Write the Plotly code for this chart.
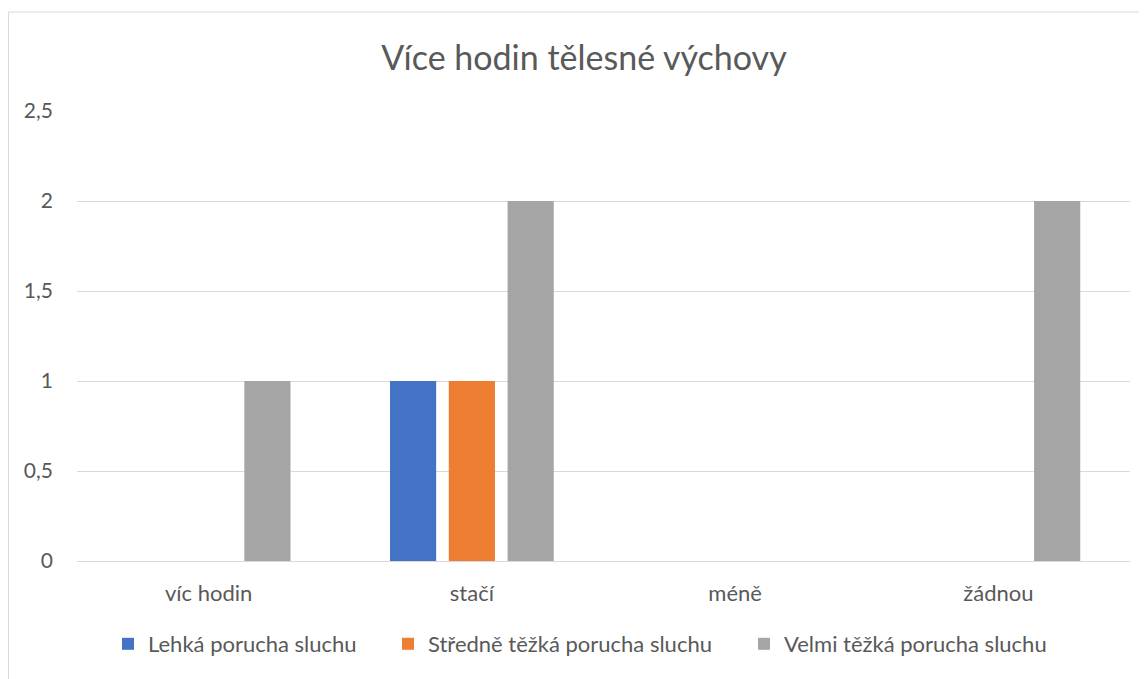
import plotly.graph_objects as go

categories = ["víc hodin", "stačí", "méně", "žádnou"]
series_names = ["Lehká porucha sluchu", "Středně těžká porucha sluchu", "Velmi těžká porucha sluchu"]
lehka = [0, 1, 0, 0]
stredne = [0, 1, 0, 0]
velmi = [1, 2, 0, 2]
colors = ["#4472C4", "#ED7D31", "#A5A5A5"]
y_ticks = [0, 0.5, 1, 1.5, 2, 2.5]
y_tick_labels = ["0", "0,5", "1", "1,5", "2", "2,5"]

W, H = 1147, 679
# page body has an 8px margin, so figure coords = screenshot coords - 8
L, R, T, B = 69, 25, 103, 126
pw = W - L - R
ph = H - T - B

legend_ids = ["legend", "legend2", "legend3"]
legend_text_x = [140, 420, 776]  # figure px where each legend label starts

fig = go.Figure()
for name, vals, col, lid in zip(series_names, [lehka, stredne, velmi], colors, legend_ids):
    fig.add_trace(go.Bar(x=categories, y=vals, name=name, legend=lid, showlegend=True,
                         marker=dict(color=col, line=dict(width=0))))

font_family = "Lato, 'Open Sans', sans-serif"
legend_common = dict(orientation="h", xanchor="left", yanchor="middle", y=-(636 - 553) / ph,
                     font=dict(size=22, color="#595959", family=font_family), itemwidth=30,
                     bgcolor="rgba(0,0,0,0)")
legends = {}
for lid, tx in zip(legend_ids, legend_text_x):
    legends[lid] = dict(legend_common, x=(tx - 40 - L) / pw)

fig.update_layout(
    width=W, height=H,
    showlegend=True,
    margin=dict(l=L, r=R, t=T, b=B, pad=0),
    paper_bgcolor="white", plot_bgcolor="white",
    barmode="group", bargap=0.33, bargroupgap=0.215,
    separators=", ",
    font=dict(family=font_family, color="#595959", size=22),
    title=dict(text="Více hodin tělesné výchovy", x=(584 - 8) / W, xanchor="center", y=1 - 50 / H, yanchor="middle",
               font=dict(size=34, color="#595959", family=font_family)),
    xaxis=dict(showgrid=False, showline=True, linecolor="#D9D9D9", linewidth=1, ticks="",
               tickfont=dict(size=22, color="#595959"), ticklabelstandoff=13),
    yaxis=dict(range=[0, 2.5], tickvals=y_ticks, ticktext=y_tick_labels, showgrid=True,
               gridcolor="#D9D9D9", gridwidth=1, zeroline=False, showline=False, ticks="",
               tickfont=dict(size=21, color="#595959"), ticklabelstandoff=23),
    shapes=[dict(type="rect", xref="paper", yref="paper",
                 x0=(0.5 - L) / pw, x1=(1160 - L) / pw,
                 y0=(553 - 700) / ph, y1=(553 - 4) / ph,
                 line=dict(color="#D9D9D9", width=1), fillcolor="rgba(0,0,0,0)", layer="below")],
    **legends,
)

fig.write_html("out.html")
